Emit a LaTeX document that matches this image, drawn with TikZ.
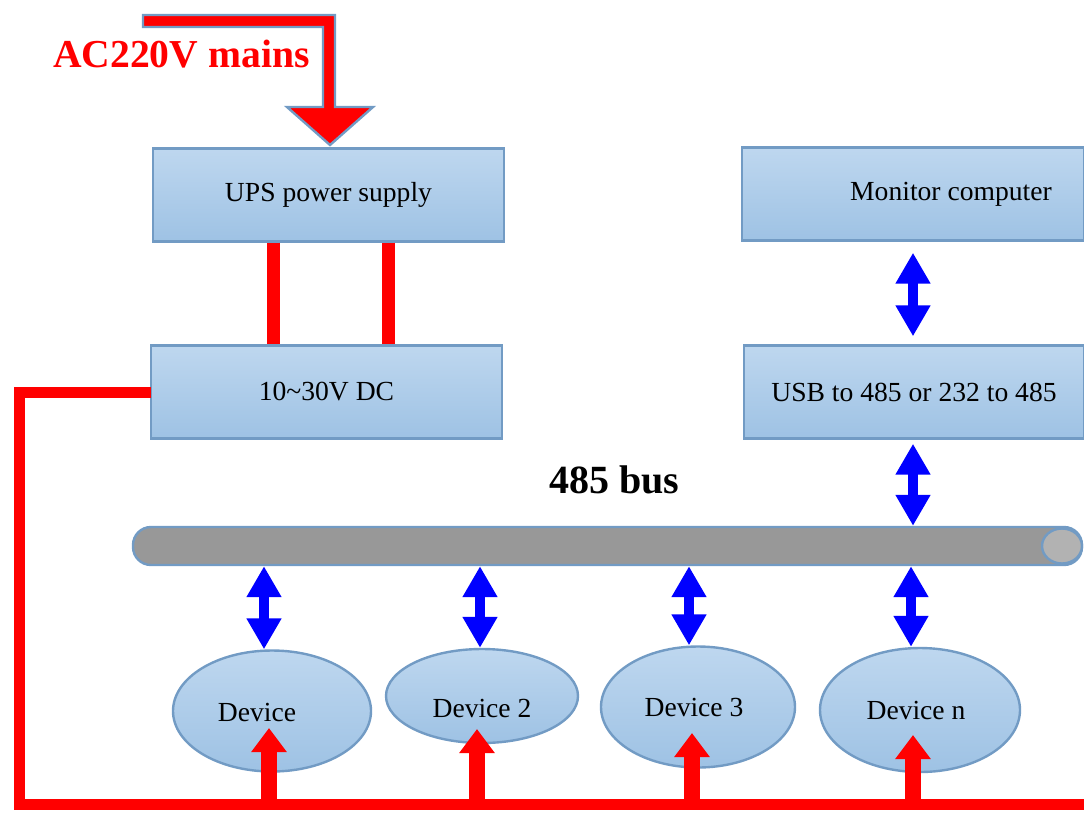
\documentclass[tikz,border=0pt]{standalone}
\usepackage{fontspec}
\setmainfont{Liberation Serif}
\usetikzlibrary{shapes.geometric,arrows.meta,calc}
\definecolor{steel}{RGB}{114,155,196}
\definecolor{boxtop}{RGB}{190,215,239}
\definecolor{boxbot}{RGB}{158,194,228}
\definecolor{busgray}{RGB}{152,152,152}
\definecolor{capgray}{RGB}{178,178,178}
\begin{document}
\begin{tikzpicture}[x=1pt,y=-1pt,
 box/.style={rectangle,draw=steel,line width=2.4pt,top color=boxtop,bottom color=boxbot,
   minimum height=93pt,inner sep=0pt,font=\fontsize{27.6}{30}\selectfont},
 dev/.style={ellipse,draw=steel,line width=2.4pt,top color=boxtop,bottom color=boxbot,
   inner sep=0pt,font=\fontsize{27.6}{30}\selectfont},
 bluearr/.style={draw=blue,line width=10pt,
   {Triangle[length=31pt,width=33pt]}-{Triangle[length=31pt,width=33pt]}},
 redarr/.style={draw=red,line width=16pt,-{Triangle[length=24pt,width=34pt]}},
 wire/.style={draw=red,line width=11pt},
 bar/.style={draw=red,line width=13pt},
]
\useasboundingbox (0,0) rectangle (1084,812);
\clip (0,0) rectangle (1084,812);

% boxes
\node[box,minimum width=351pt] (ups) at (328.5,195) {UPS power supply};
\node[box,minimum width=351pt] (dc) at (326.5,392) {10\textasciitilde30V DC};
\node[box,minimum width=342pt] (mon) at (913,194) {\hspace*{76pt}Monitor computer};
\node[box,minimum width=340pt] (usb) at (914,392) {USB to 485 or 232 to 485};

% bus
\node[rectangle,rounded corners=18pt,draw=steel,line width=2.4pt,fill=busgray,
  minimum width=949pt,minimum height=38pt,inner sep=0pt] (bus) at (607.5,546) {};
\node[ellipse,draw=steel,line width=2.4pt,fill=capgray,minimum width=40pt,
  minimum height=35pt,inner sep=0pt] (cap) at (1062,546) {};
\node[font=\bfseries\fontsize{40}{44}\selectfont,anchor=base west,inner sep=0pt] (buslbl) at (549,493) {485 bus};

% devices
\node[dev,minimum width=198pt,minimum height=121pt,label={[font=\fontsize{27.6}{30}\selectfont,xshift=-15pt,yshift=-1pt]center:Device}] (d1) at (272,711) {};
\node[dev,minimum width=192pt,minimum height=94pt,label={[font=\fontsize{27.6}{30}\selectfont,yshift=-12pt]center:Device 2}] (d2) at (482,696) {};
\node[dev,minimum width=194pt,minimum height=121pt] (d3) at (698,707) {\hspace*{-8pt}Device 3};
\node[dev,minimum width=200pt,minimum height=124pt] (dn) at (920,710) {\hspace*{-8pt}Device n};

% UPS -> DC bars
\draw[bar] (273,0 |- ups.south) -- (273,0 |- dc.north);
\draw[bar] (388,0 |- ups.south) -- (388,0 |- dc.north);

% red power wiring
\coordinate (wl) at (19,804);
\coordinate (wr) at (1095,804);
\draw[wire] ([xshift=1pt]dc.west) -| (wl) -- (wr);
\draw[redarr] (269,0 |- wl) -- ($(d1.center)+(-3,17)$);
\draw[redarr] (477,0 |- wl) -- ($(d2.center)+(-5,33)$);
\draw[redarr] (692,0 |- wl) -- ($(d3.center)+(-6,26)$);
\draw[redarr] (913,0 |- wl) -- ($(dn.center)+(-7,25)$);

% blue data arrows
\draw[bluearr] ($(913,0 |- mon.south)+(0,11)$) -- ($(913,0 |- usb.north)+(0,-8)$);
\draw[bluearr] ($(913,0 |- usb.south)+(0,4)$) -- (913,0 |- bus.north);
\draw[bluearr] (264,0 |- bus.south) -- (264,0 |- d1.north);
\draw[bluearr] (480,0 |- bus.south) -- (480,0 |- d2.north);
\draw[bluearr] (689,0 |- bus.south) -- (689,0 |- d3.north);
\draw[bluearr] (911,0 |- bus.south) -- (911,0 |- dn.north);

% AC mains block arrow
\coordinate (acstart) at (143,21);
\draw[draw=steel,line width=2.4pt,fill=red,line join=miter]
  (acstart |- 0,15) -- (335,15) -- (335,107) -- (373,107) -- (330,145)
  -- (287,107) -- (323,107) -- (323,27) -- (acstart |- 0,27) -- cycle;
\node[font=\bfseries\fontsize{39.6}{44}\selectfont,text=red,anchor=base west,inner sep=0pt] (aclbl) at (53,67) {AC220V mains};
\end{tikzpicture}
\end{document}
